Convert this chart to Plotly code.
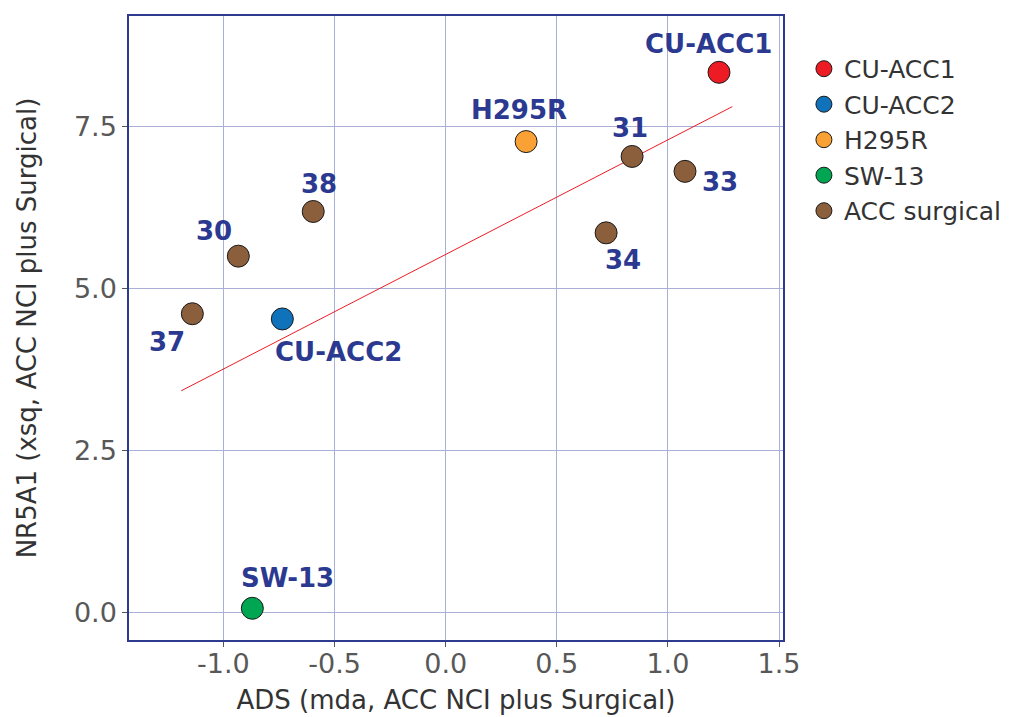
import plotly.graph_objects as go

# ---- data ----
groups = ["CU-ACC1", "CU-ACC2", "H295R", "SW-13", "ACC surgical"]
group_colors = ["#ed1c24", "#1072ba", "#f9a134", "#00a651", "#8b5e3c"]

cell_x = [1.23, -0.735, 0.362, -0.87]
cell_y = [8.34, 4.53, 7.27, 0.06]

surg_labels = ["37", "30", "38", "34", "31", "33"]
surg_x = [-1.14, -0.933, -0.596, 0.722, 0.839, 1.077]
surg_y = [4.61, 5.50, 6.19, 5.86, 7.04, 6.81]

trend_x = [-1.19, 1.29]
trend_y = [3.42, 7.81]

x_ticks = [-1.0, -0.5, 0.0, 0.5, 1.0, 1.5]
y_ticks = [0.0, 2.5, 5.0, 7.5]

# label offsets in pixels (dx, dy up-positive)
cell_offsets = [(-11, 28), (56, -33), (-7, 32), (35, 30)]
surg_offsets = [(-25, -28), (-24, 25), (6, 27), (17, -27), (-2, 28), (35, -11)]

fig = go.Figure()

fig.add_trace(go.Scatter(x=trend_x, y=trend_y, mode="lines",
                         line=dict(color="#ee1c24", width=1), showlegend=False,
                         hoverinfo="skip"))

for i, g in enumerate(groups[:4]):
    fig.add_trace(go.Scatter(x=[cell_x[i]], y=[cell_y[i]], mode="markers", name=g,
                             marker=dict(size=22, color=group_colors[i],
                                         line=dict(color="#1a1a1a", width=1))))
fig.add_trace(go.Scatter(x=surg_x, y=surg_y, mode="markers", name=groups[4],
                         marker=dict(size=22, color=group_colors[4],
                                     line=dict(color="#1a1a1a", width=1))))

lab_font = dict(family="DejaVu Sans", size=26, color="#2b3990")
for i, g in enumerate(groups[:4]):
    dx, dy = cell_offsets[i]
    fig.add_annotation(x=cell_x[i], y=cell_y[i], text="<b>%s</b>" % g, showarrow=False,
                       xshift=dx, yshift=dy, font=lab_font)
for i, s in enumerate(surg_labels):
    dx, dy = surg_offsets[i]
    fig.add_annotation(x=surg_x[i], y=surg_y[i], text="<b>%s</b>" % s, showarrow=False,
                       xshift=dx, yshift=dy, font=lab_font)

axis_common = dict(showgrid=True, gridcolor="#a9afd6", gridwidth=1.4,
                   showline=True, linecolor="#2e3a90", linewidth=1.5, mirror=True,
                   zeroline=False, ticks="outside", ticklen=5, tickcolor="#555555",
                   tickfont=dict(family="DejaVu Sans", size=27, color="#585858"),
                   title_font=dict(family="DejaVu Sans", size=26, color="#333333"))

fig.update_xaxes(range=[-1.425, 1.518], tickvals=x_ticks, ticktext=["%.1f" % v for v in x_ticks],
                 ticklabelstandoff=-6,
                 title_text="ADS (mda, ACC NCI plus Surgical)", title_standoff=13, **axis_common)
fig.update_yaxes(range=[-0.43, 9.21], tickvals=y_ticks, ticktext=["%.1f" % v for v in y_ticks],
                 title_text="NR5A1 (xsq, ACC NCI plus Surgical)", title_standoff=30, **axis_common)

fig.update_layout(
    width=1013, height=717,
    margin=dict(l=121, r=238, t=6, b=85),
    paper_bgcolor="white", plot_bgcolor="white",
    legend=dict(x=1.032, y=0.952, xanchor="left", yanchor="top",
                font=dict(family="DejaVu Sans", size=25, color="#333333"),
                tracegroupgap=0, itemwidth=30),
)

fig.write_html("out.html")
